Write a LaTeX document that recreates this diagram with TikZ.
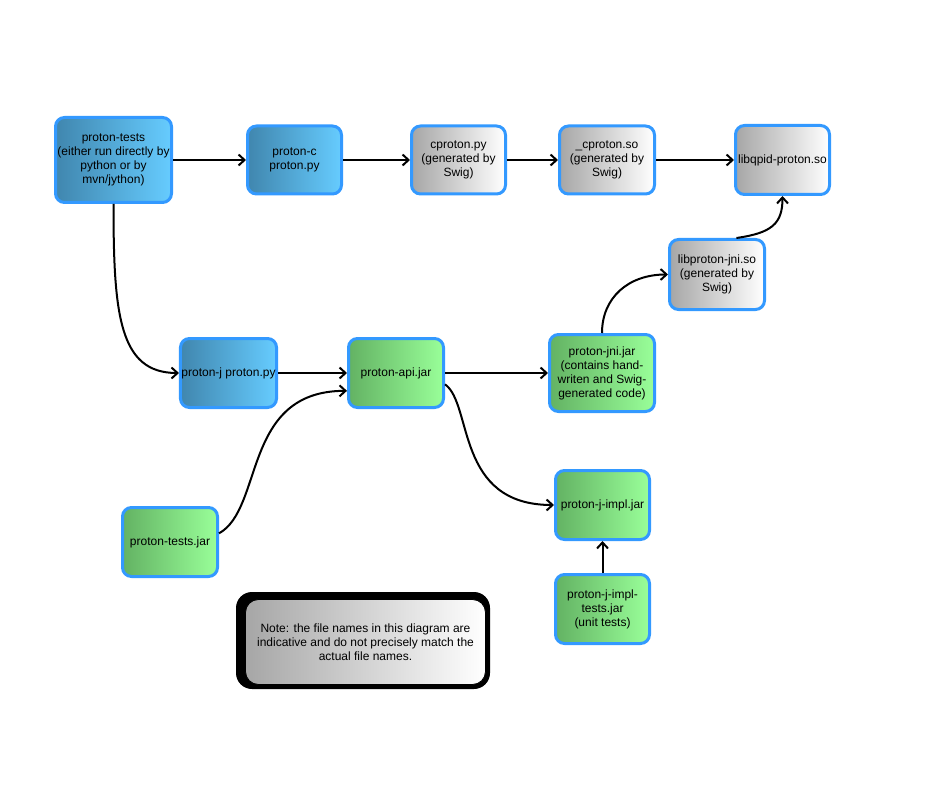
\documentclass[tikz,border=0pt]{standalone}
\usepackage{fontspec}
\setmainfont{Liberation Sans}
\usetikzlibrary{arrows.meta}
\definecolor{bord}{RGB}{51,153,255}
\definecolor{blueL}{RGB}{64,134,174}
\definecolor{blueR}{RGB}{102,204,255}
\definecolor{greenL}{RGB}{99,178,99}
\definecolor{greenR}{RGB}{153,255,153}
\definecolor{grayL}{RGB}{166,166,166}
\tikzset{
  box/.style={draw=bord, line width=3pt, rounded corners=9pt, align=center,
    font=\fontsize{12}{14}\selectfont, inner sep=1pt},
  bluebox/.style={box, left color=blueL, right color=blueR},
  greenbox/.style={box, left color=greenL, right color=greenR},
  graybox/.style={box, left color=grayL, right color=white},
  conn/.style={line width=2pt, -{Straight Barb[length=6pt,width=11pt]}},
}
\begin{document}
\begin{tikzpicture}[x=1pt,y=1pt]
\useasboundingbox (0,0) rectangle (933,-791);
\node[bluebox, minimum width=116pt, minimum height=85pt] (ptests) at (113.5,-160) {proton-tests\\(either run directly by\\python or by\\mvn/jython)};
\node[bluebox, minimum width=94pt, minimum height=68pt] (pc) at (294.5,-160) {proton-c\\proton.py};
\node[graybox, minimum width=94pt, minimum height=68pt] (cpy) at (458.5,-160) {cproton.py\\(generated by\\Swig)};
\node[graybox, minimum width=95pt, minimum height=68pt] (cso) at (607,-160) {\_cproton.so\\(generated by\\Swig)};
\node[graybox, minimum width=94pt, minimum height=69pt] (libqpid) at (782.5,-160) {libqpid-proton.so};
\node[graybox, minimum width=95pt, minimum height=70pt] (libjni) at (717,-274.5) {libproton-jni.so\\(generated by\\Swig)};
\node[bluebox, minimum width=94pt, minimum height=69pt] (pj) at (228.5,-373) {proton-j proton.py};
\node[greenbox, minimum width=95pt, minimum height=69pt] (api) at (396,-373) {proton-api.jar};
\node[greenbox, minimum width=105pt, minimum height=77pt] (jni) at (602,-373) {proton-jni.jar\\(contains hand-\\writen and Swig-\\generated code)};
\node[greenbox, minimum width=95pt, minimum height=69pt] (tjar) at (170,-542) {proton-tests.jar};
\node[greenbox, minimum width=94pt, minimum height=69pt] (impl) at (602.5,-505) {proton-j-impl.jar};
\node[greenbox, minimum width=94pt, minimum height=69pt] (implt) at (602.5,-609) {proton-j-impl-\\tests.jar\\(unit tests)};
\node[fill=black, rounded corners=16pt, minimum width=254pt, minimum height=97pt, inner sep=0pt] (notebg) at (363,-640.5) {};
\node[draw=black, line width=0.8pt, rounded corners=13pt, left color=grayL, right color=white,
  minimum width=240pt, minimum height=85pt, align=center, font=\fontsize{12}{14}\selectfont] (note) at (365.5,-642)
  {Note: the file names in this diagram are\\indicative and do not precisely match the\\actual file names.};
\draw[conn] (ptests.east) -- (pc.west);
\draw[conn] (pc.east) -- (cpy.west);
\draw[conn] (cpy.east) -- (cso.west);
\draw[conn] (cso.east) -- (libqpid.west);
\draw[conn] (pj.east) -- (api.west);
\draw[conn] (api.east) -- (jni.west);
\draw[conn] (implt.north) -- (impl.south);
\draw[conn] (ptests.south) .. controls +(0,-110) and +(-60,0) .. (pj.west);
\draw[conn] (jni.north) .. controls +(0,35) and +(-40,0) .. (libjni.west);
\draw[conn] (libjni.62) .. controls +(35,5) and +(0,-28) .. (libqpid.south);
\draw[conn] (tjar.10) .. controls +(45,25) and +(-105,0) .. (api.200);
\draw[conn] (api.-13) .. controls +(28,-20) and +(-99,0) .. (impl.west);
\end{tikzpicture}
\end{document}
